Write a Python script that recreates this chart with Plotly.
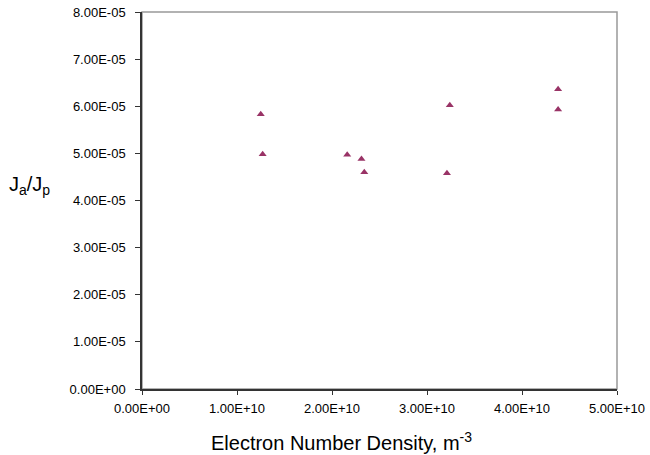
import plotly.graph_objects as go

density = [1.25e10, 1.27e10, 2.16e10, 2.31e10, 2.34e10, 3.24e10, 3.21e10, 4.38e10, 4.38e10]
ratio = [5.83e-5, 4.98e-5, 4.97e-5, 4.88e-5, 4.60e-5, 6.02e-5, 4.58e-5, 6.36e-5, 5.93e-5]

x_ticks = [0, 1e10, 2e10, 3e10, 4e10, 5e10]
x_labels = ["0.00E+00", "1.00E+10", "2.00E+10", "3.00E+10", "4.00E+10", "5.00E+10"]
y_ticks = [0, 1e-5, 2e-5, 3e-5, 4e-5, 5e-5, 6e-5, 7e-5, 8e-5]
y_labels = ["0.00E+00", "1.00E-05", "2.00E-05", "3.00E-05", "4.00E-05",
            "5.00E-05", "6.00E-05", "7.00E-05", "8.00E-05"]

font_family = "Liberation Sans, Arial, sans-serif"

fig = go.Figure(go.Scatter(
    x=density, y=ratio, mode="markers",
    marker=dict(symbol="triangle-up", size=7, color="#993366"),
    cliponaxis=False,
))

fig.update_layout(
    width=650, height=455,
    margin=dict(l=142, r=33, t=12, b=66),
    paper_bgcolor="white", plot_bgcolor="white",
    showlegend=False,
    font=dict(family=font_family, color="black", size=13),
    shapes=[dict(type="rect", xref="paper", yref="paper", x0=0, y0=0, x1=1, y1=1,
                 line=dict(color="#999999", width=1.5), layer="below")],
    annotations=[
        dict(text="J<sub>a</sub>/J<sub>p</sub>", xref="paper", yref="paper",
             x=-0.189, y=0.54, xanchor="right", yanchor="middle", showarrow=False,
             font=dict(size=20, family=font_family)),
        dict(text="Electron Number Density, m<sup>-3</sup>", xref="paper", yref="paper",
             x=0.419, y=-0.14, xanchor="center", yanchor="middle", showarrow=False,
             font=dict(size=20, family=font_family)),
    ],
)

fig.update_xaxes(
    range=[0, 5e10], tickvals=x_ticks, ticktext=x_labels, automargin=False,
    ticklabeloverflow="allow", ticklabelstandoff=3,
    showgrid=False, zeroline=False, showline=True, linecolor="#333333", linewidth=1.5,
    ticks="outside", ticklen=4, tickcolor="#333333",
)
fig.update_yaxes(
    range=[0, 8e-5], tickvals=y_ticks, ticktext=y_labels, automargin=False,
    ticklabeloverflow="allow", ticklabelstandoff=7,
    showgrid=False, zeroline=False, showline=True, linecolor="#333333", linewidth=1.5,
    ticks="outside", ticklen=5, tickcolor="#333333",
)

# remove the browser's default 8px body margin so the figure sits at the window corner
fig.write_html("out.html", config={"displayModeBar": False},
               post_script="document.body.style.margin='0';")
